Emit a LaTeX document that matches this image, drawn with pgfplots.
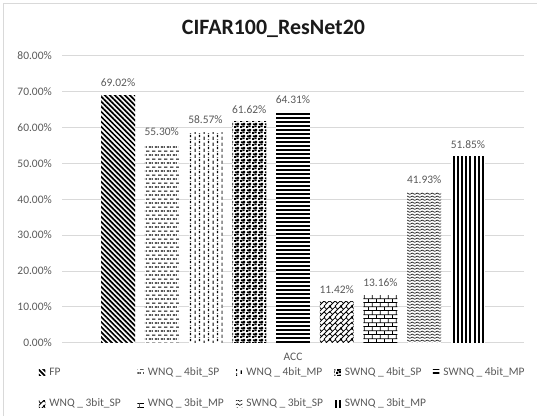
\documentclass[border=0pt]{standalone}
\usepackage{fontspec}
\setmainfont{Carlito}
\usepackage{pgfplots}
\pgfplotsset{compat=1.18}
\usetikzlibrary{patterns.meta}

\definecolor{txtgray}{HTML}{595959}
\definecolor{gridgray}{HTML}{D9D9D9}
\definecolor{titlecol}{HTML}{1A1A1A}

% ---- fill patterns (black on white) ----
% dashed horizontal
\tikzdeclarepattern{name=phdash, type=uncolored,
  bounding box={(0,0) and (5.6bp,8.4bp)}, tile size={(5.6bp,8.4bp)},
  code={\draw[x=1bp,y=1bp,line width=1.2bp] (0.2,6.3)--(3.6,6.3) (3.0,2.1)--(5.6,2.1) (0,2.1)--(0.8,2.1);}}
% dashed vertical
\tikzdeclarepattern{name=pvdash, type=uncolored,
  bounding box={(0,0) and (9.2bp,6bp)}, tile size={(9.2bp,6bp)},
  code={\draw[x=1bp,y=1bp,line width=1.2bp] (2.3,0.2)--(2.3,3.8) (6.9,3.2)--(6.9,6) (6.9,0)--(6.9,0.8);}}
% confetti
\tikzdeclarepattern{name=pconf, type=uncolored,
  bounding box={(0,0) and (6bp,6bp)}, tile size={(6bp,6bp)},
  code={\fill[x=1bp,y=1bp] (0.1,0.1) rectangle ++(2.2,2.2) (3.1,0.9) rectangle ++(2.2,2.2)
        (1.1,3.2) rectangle ++(2.2,2.2) (3.7,3.7) rectangle ++(2.2,2.2);}}
% diagonal brick
\tikzdeclarepattern{name=pdbrick, type=uncolored,
  bounding box={(0,0) and (11bp,11bp)}, tile size={(11bp,11bp)},
  code={\draw[x=1bp,y=1bp,line width=0.85bp]
        (-1,-1)--(12,12) (-1,4.5)--(7.5,13) (4.5,-1)--(13,7.5) (-1,10)--(2,13) (10,-1)--(13,2)
        (0,5.5)--(2.75,2.75) (5.5,11)--(8.25,8.25) (5.5,5.5)--(8.25,2.75)
        (0,0)--(2.75,-2.75) (11,11)--(13.75,8.25) (2.75,8.25)--(0,11)
        (11,5.5)--(13.75,2.75) (5.5,0)--(8.25,-2.75);}}
% horizontal brick
\tikzdeclarepattern{name=phbrick, type=uncolored,
  bounding box={(0,0) and (8.2bp,8.2bp)}, tile size={(8.2bp,8.2bp)},
  code={\draw[x=1bp,y=1bp,line width=0.95bp]
        (-1,0.5)--(9.2,0.5) (-1,4.6)--(9.2,4.6) (0.5,0.5)--(0.5,4.6)
        (4.6,4.6)--(4.6,8.7) (4.6,-0.5)--(4.6,0.5);}}
% wave
\tikzdeclarepattern{name=pwave, type=uncolored,
  bounding box={(0,0) and (5bp,3.4bp)}, tile size={(5bp,3.4bp)},
  code={\draw[x=1bp,y=1bp,line width=0.65bp] (-1,1.44)--(0,0.8)--(2.5,2.4)--(5,0.8)--(6,1.44);}}

\newcommand{\lbl}[1]{\makebox[88bp][l]{#1}}

\begin{document}
\begin{tikzpicture}
\useasboundingbox (0,0) rectangle (537bp,416bp);
% chart area frame
\draw[gridgray, line width=0.75bp] (3.5bp,0) -- (3.5bp,412.5bp) -- (537bp,412.5bp);
% chart title
\node[anchor=base, font=\fontsize{22}{26}\selectfont\bfseries, text=titlecol, inner sep=0pt]
  at (273.5bp,381bp) {CIFAR100\_ResNet20};

\begin{axis}[
  at={(62bp,73.3bp)}, anchor=south west,
  scale only axis, width=462bp, height=287bp,
  xmin=-0.281, xmax=10.281, ymin=0, ymax=80,
  ybar, bar width=0.777, bar shift=0pt,
  axis line style={draw=none},
  major tick length=0pt,
  ymajorgrids, grid style={gridgray, line width=0.75bp},
  ytick={0,10,...,80},
  xtick={5}, xticklabels={ACC},
  /pgf/number format/assume math mode=true,
  yticklabel={\pgfmathprintnumber[fixed,fixed zerofill,precision=2]{\tick}\%},
  ticklabel style={font=\fontsize{11.5}{13}\selectfont, text=txtgray, inner sep=0pt},
  yticklabel style={xshift=-10bp},
  xticklabel style={yshift=-10.5bp},
  nodes near coords={\pgfmathprintnumber[fixed,fixed zerofill,precision=2]{\pgfplotspointmeta}\%},
  nodes near coords style={font=\fontsize{11.5}{13}\selectfont, text=txtgray, inner sep=0pt,
    anchor=south, yshift=8.3bp},
  legend columns=5,
  legend image code/.code={\draw[#1, draw=none] (0bp,-3.2bp) rectangle (6.5bp,3.2bp);},
  legend cell align=left,
  legend style={draw=none, fill=none, at={(-0.0498,-0.086)}, anchor=north west,
    inner sep=0pt, outer sep=0pt, row sep=21.5bp,
    font=\fontsize{11.5}{13}\selectfont, text=txtgray,
    nodes={inner sep=0pt, text height=8bp, text depth=2bp},
    /tikz/every odd column/.append style={column sep=4bp}},
]
\addplot[fill=white, draw=none, postaction={pattern={Lines[angle=-45, distance=3.54bp, line width=1.75bp]}, pattern color=black}] coordinates {(1,69.02)};
\addlegendentry{\lbl{FP}}
\addplot[fill=white, draw=none, postaction={pattern=phdash, pattern color=black}] coordinates {(2,55.30)};
\addlegendentry{\lbl{WNQ \_ 4bit\_SP}}
\addplot[fill=white, draw=none, postaction={pattern=pvdash, pattern color=black}] coordinates {(3,58.57)};
\addlegendentry{\lbl{WNQ \_ 4bit\_MP}}
\addplot[fill=white, draw=none, postaction={pattern=pconf, pattern color=black}] coordinates {(4,61.62)};
\addlegendentry{\lbl{SWNQ \_ 4bit\_SP}}
\addplot[fill=white, draw=none, postaction={pattern={Lines[angle=0, distance=3.9bp, line width=1.8bp]}, pattern color=black}] coordinates {(5,64.31)};
\addlegendentry{\lbl{SWNQ \_ 4bit\_MP}}
\addplot[fill=white, draw=none, postaction={pattern=pdbrick, pattern color=black}] coordinates {(6,11.42)};
\addlegendentry{\lbl{WNQ \_ 3bit\_SP}}
\addplot[fill=white, draw=none, postaction={pattern=phbrick, pattern color=black}] coordinates {(7,13.16)};
\addlegendentry{\lbl{WNQ \_ 3bit\_MP}}
\addplot[fill=white, draw=none, postaction={pattern=pwave, pattern color=black}] coordinates {(8,41.93)};
\addlegendentry{\lbl{SWNQ \_ 3bit\_SP}}
\addplot[fill=white, draw=none, postaction={pattern={Lines[angle=90, distance=4.2bp, line width=2.1bp]}, pattern color=black}] coordinates {(9,51.85)};
\addlegendentry{\lbl{SWNQ \_ 3bit\_MP}}
\end{axis}
\end{tikzpicture}
\end{document}
